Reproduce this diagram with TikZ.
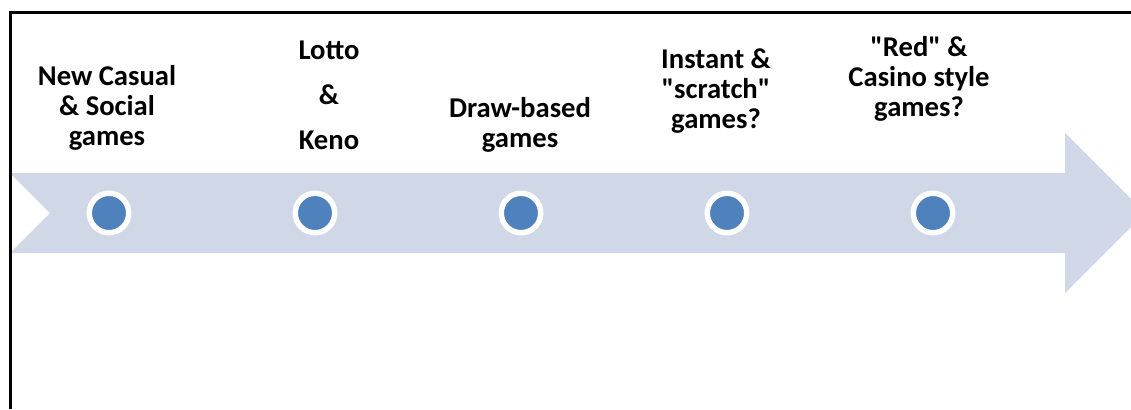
\documentclass[tikz,border=0pt]{standalone}
\usepackage{fontspec}
\newfontfamily\lblfont{Carlito}
\usepackage{xcolor}
\definecolor{mband}{RGB}{208,216,232}
\definecolor{mdot}{RGB}{79,129,189}

\begin{document}
\begin{tikzpicture}[x=0.02cm, y=-0.02cm,
  lbl/.style={font=\lblfont\fontsize{16.3}{16.8}\selectfont\bfseries, align=center,
              anchor=base, inner sep=0pt},
  dot/.style={circle, fill=mdot, draw=white, line width=3.1pt,
              minimum size=0.79cm, inner sep=0pt}
]
\useasboundingbox (0,0) rectangle (1131,409);
\clip (0,0) rectangle (1131,409);
% timeline band
\fill[mband] (10,173) -- (1065,173) -- (1065,133) -- (1145,213)
  -- (1065,293) -- (1065,253) -- (10,253) -- (50,213) -- cycle;
% frame
\draw[line width=1.14pt] (10.5,409) -- (10.5,12.5) -- (1131,12.5);
\node[dot] (d1) at (109,213) {};
\node[dot] (d2) at (315,213) {};
\node[dot] (d3) at (521,213) {};
\node[dot] (d4) at (727,213) {};
\node[dot] (d5) at (933,213) {};
% labels, anchored at the last baseline
\node[lbl] (l1) at (107,145) {New Casual\\\& Social\\games};
\node[lbl] (l2) at (329,149) {Lotto\\[8.8pt]\&\\[8.8pt]Keno};
\node[lbl] (l3) at (520,147) {Draw-based\\games};
\node[lbl] (l4) at (716,128) {Instant \&\\"scratch"\\games?};
\node[lbl] (l5) at (919,116) {"Red" \&\\Casino style\\games?};
\end{tikzpicture}
\end{document}
